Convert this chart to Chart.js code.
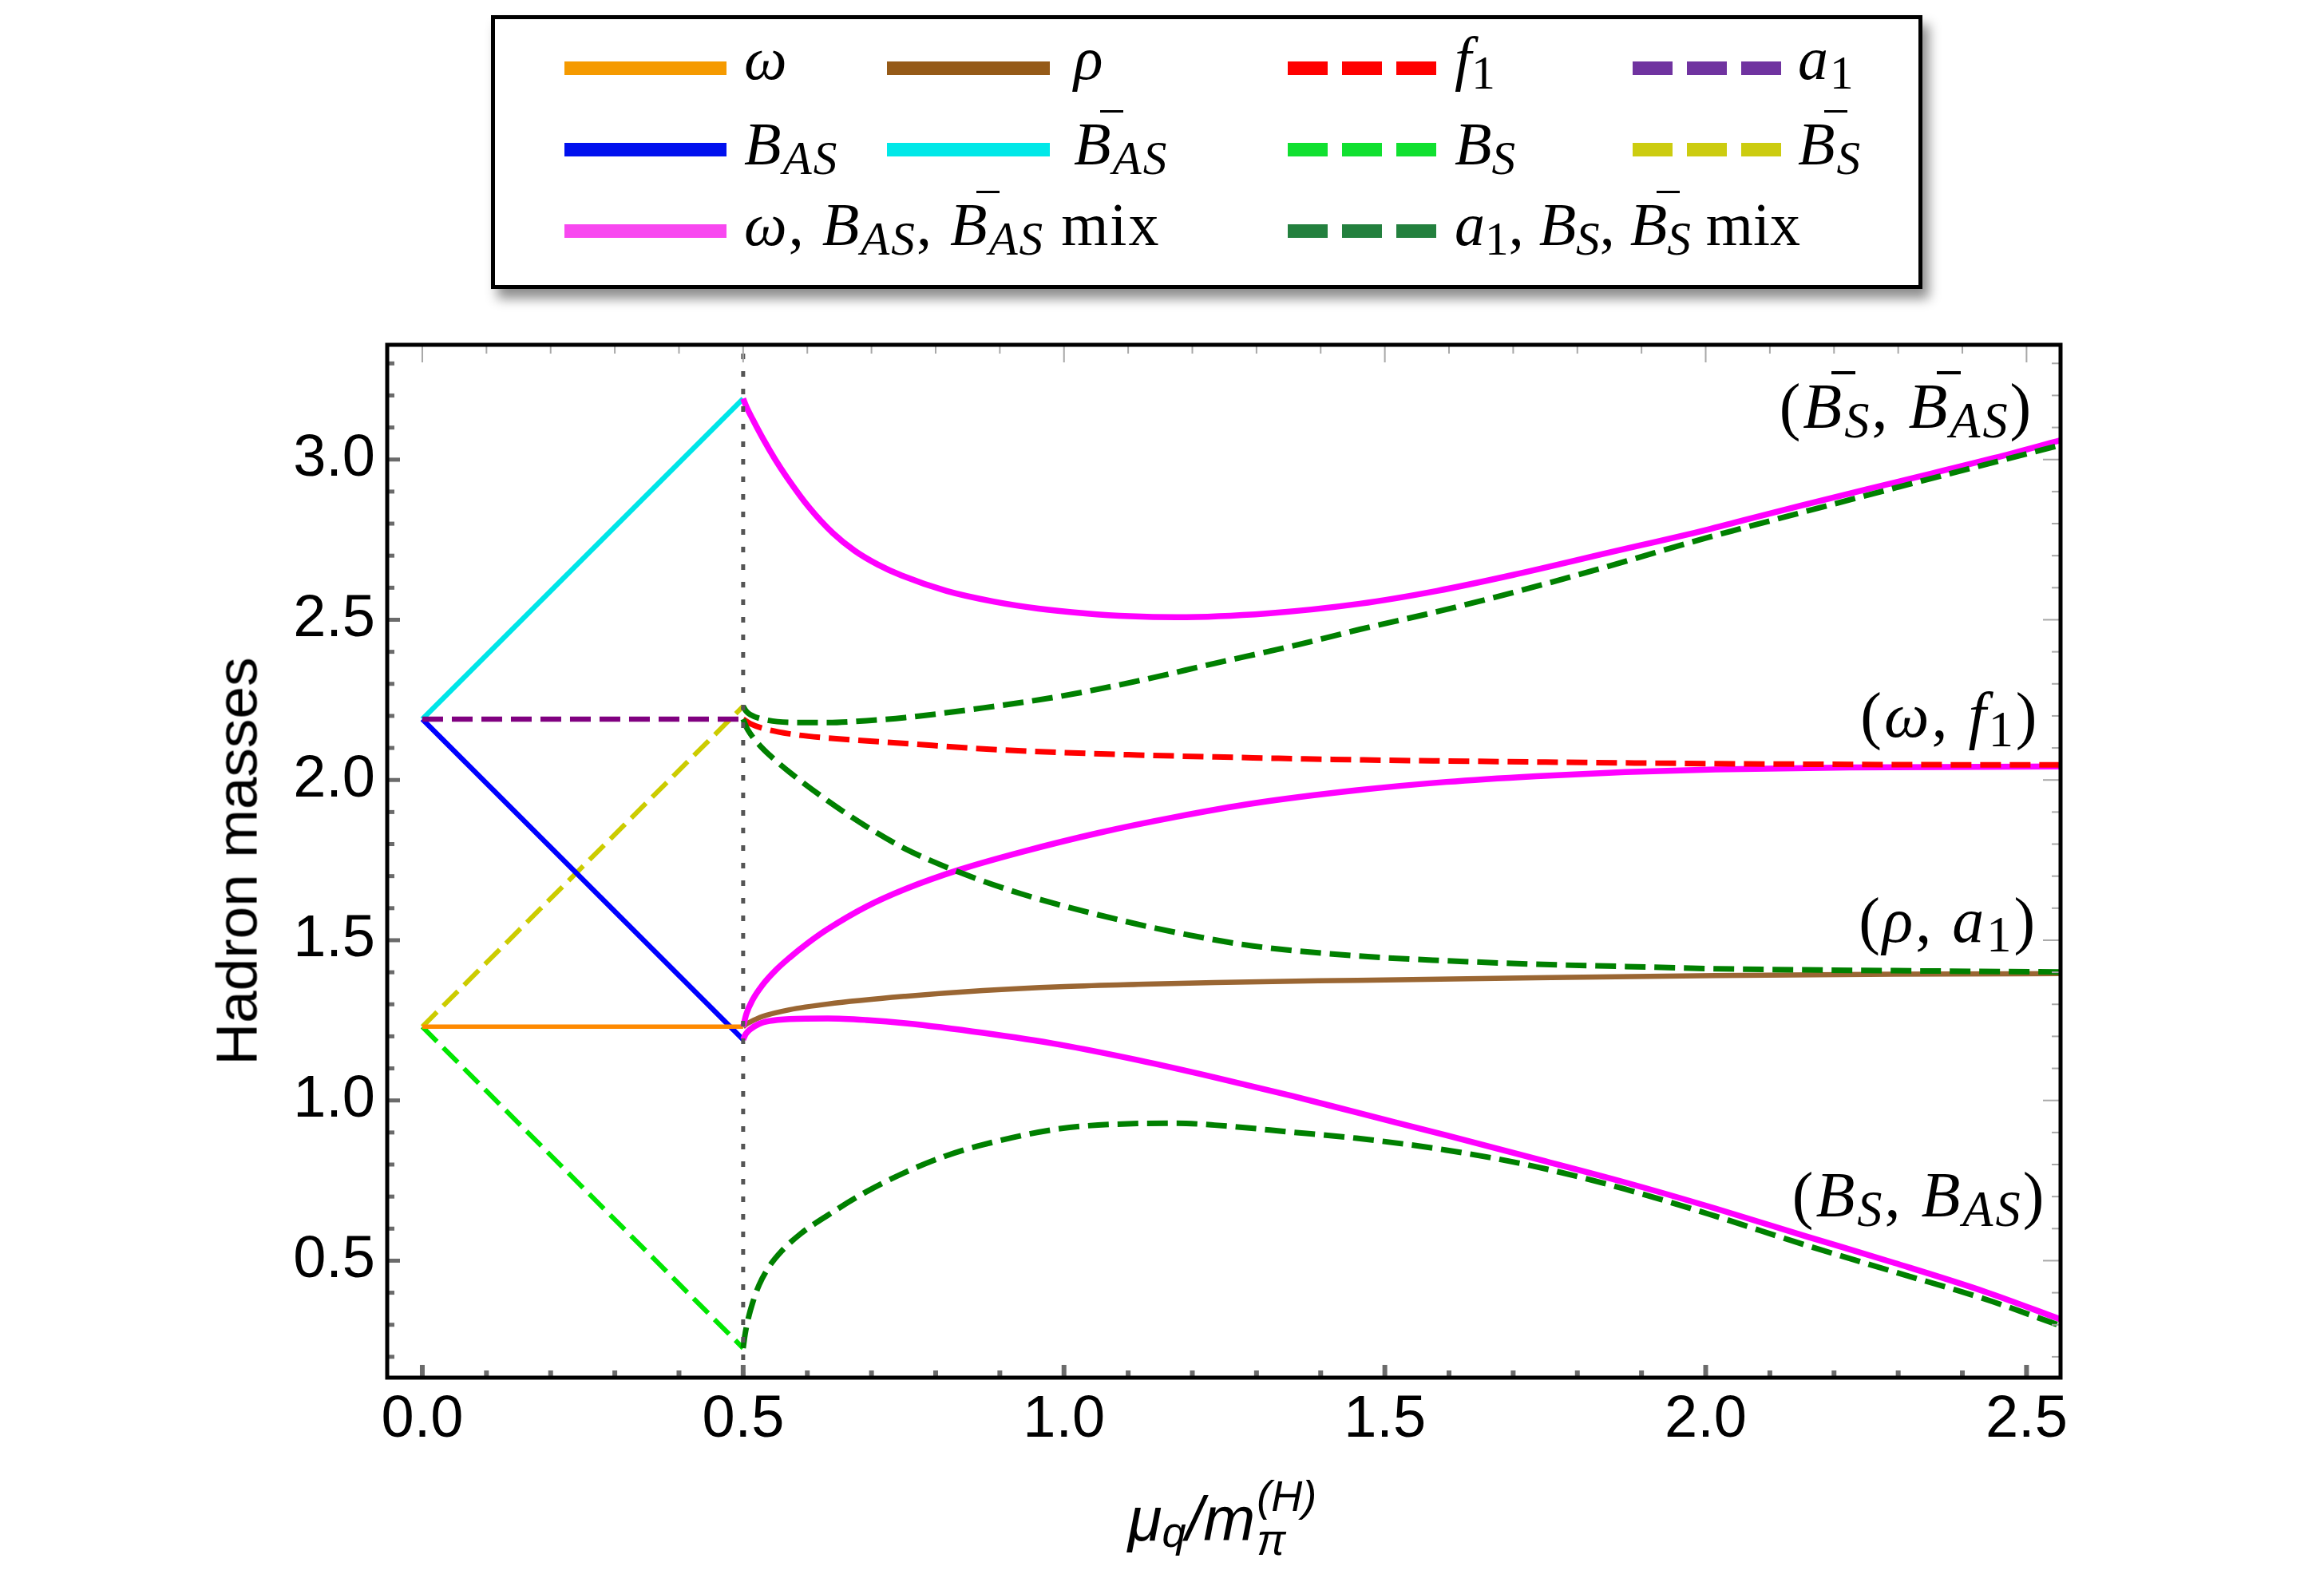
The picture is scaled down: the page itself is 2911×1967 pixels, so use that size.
<!DOCTYPE html>
<html>
<head>
<meta charset="utf-8">
<script src="https://cdn.jsdelivr.net/npm/chart.js@4.4.1/dist/chart.umd.min.js"></script>
<style>
html,body{margin:0;padding:0;background:#fff;}
#wrap{position:relative;width:2911px;height:1967px;overflow:hidden;background:#fff;}
#c{position:absolute;left:0;top:0;}
.math{position:absolute;font-family:"Liberation Serif","Times New Roman",serif;font-style:italic;white-space:nowrap;color:#000;line-height:1;}
.rm{font-style:normal;}
.sub{font-size:0.78em;vertical-align:-0.2em;line-height:0;}
.bar{position:relative;display:inline-block;}
.bar::after{content:"";position:absolute;left:0.44em;width:0.38em;top:-0.05em;border-top:0.05em solid #000;}
.bl{display:inline-block;width:0;height:0;}
#legend{position:absolute;left:615px;top:19px;width:1793px;height:343px;box-sizing:border-box;border:5px solid #000;background:#fff;box-shadow:8px 12px 14px rgba(0,0,0,0.45);}
.sw{position:absolute;height:17px;}
#ytitle{position:absolute;left:296px;top:1079px;transform:translate(-50%,-50%) rotate(-90deg);font-family:"Liberation Sans",Arial,sans-serif;font-size:73px;line-height:1;white-space:nowrap;color:#000;}
#xtitle{position:absolute;font-family:"Liberation Sans",Arial,sans-serif;font-style:italic;font-size:78px;line-height:1;white-space:nowrap;color:#000;}
#xtitle .xs{font-size:54px;vertical-align:-8px;line-height:0;}
#xtitle .ss{display:inline-flex;flex-direction:column;font-size:54px;line-height:55px;vertical-align:37px;margin-left:2px;}
</style>
</head>
<body>
<div id="wrap">
<canvas id="c" width="2911" height="1967"></canvas>
<div id="legend"></div>
<div id="ytitle">Hadron masses</div>
<div id="xtitle"><span class="bl"></span>μ<span class="xs">q</span>/m<span class="ss"><span>(H)</span><span>π</span></span></div>
</div>
<script>
// ---------------- data ----------------
const xTickValues = [0, 0.5, 1.0, 1.5, 2.0, 2.5];
const xTickLabels = ['0.0', '0.5', '1.0', '1.5', '2.0', '2.5'];
const yTickValues = [0.5, 1.0, 1.5, 2.0, 2.5, 3.0];
const yTickLabels = ['0.5', '1.0', '1.5', '2.0', '2.5', '3.0'];
const xRange = [-0.0547, 2.553];
const yRange = [0.135, 3.358];
const muCrit = 0.5;

// below the critical point (straight lines)
const leftX   = [0, 0.5];
const omegaY  = [1.23, 1.23];
const a1Y     = [2.19, 2.19];
const bASY    = [2.19, 1.19];
const bbarASY = [2.19, 3.19];
const bSY     = [1.23, 0.227];
const bbarSY  = [1.23, 2.23];

// rho (solid brown)
const rhoX = [0.5, 0.505, 0.511, 0.53, 0.572, 0.632, 0.753, 0.874, 0.994, 1.115, 1.235, 1.457, 1.736, 2.015, 2.294, 2.553];
const rhoY = [1.23, 1.238, 1.245, 1.262, 1.283, 1.301, 1.325, 1.343, 1.355, 1.362, 1.368, 1.375, 1.383, 1.39, 1.394, 1.396];

// f1 (dashed red)
const f1X = [0.5, 0.511, 0.533, 0.572, 0.632, 0.753, 0.874, 0.994, 1.115, 1.235, 1.457, 1.75, 2.015, 2.3, 2.553];
const f1Y = [2.19, 2.176, 2.16, 2.144, 2.131, 2.114, 2.097, 2.086, 2.078, 2.072, 2.063, 2.056, 2.051, 2.048, 2.047];

// omega, B_AS, Bbar_AS mix (solid magenta)
const mixTopX = [0.5, 0.505, 0.515, 0.531, 0.55, 0.568, 0.603, 0.64, 0.674, 0.71, 0.747, 0.817, 0.89, 0.96, 1.033, 1.103, 1.175, 1.318, 1.461, 1.581, 1.7, 1.85, 2.0, 2.054, 2.15, 2.302, 2.45, 2.553];
const mixTopY = [3.19, 3.165, 3.125, 3.065, 3.0, 2.945, 2.85, 2.77, 2.715, 2.672, 2.638, 2.59, 2.557, 2.535, 2.52, 2.511, 2.508, 2.52, 2.55, 2.59, 2.64, 2.71, 2.78, 2.808, 2.857, 2.932, 3.005, 3.06];
const mixMidX = [0.5, 0.505, 0.515, 0.53, 0.55, 0.572, 0.6, 0.632, 0.692, 0.753, 0.837, 0.933, 1.054, 1.175, 1.295, 1.457, 1.596, 1.736, 1.875, 2.015, 2.224, 2.553];
const mixMidY = [1.23, 1.27, 1.315, 1.36, 1.405, 1.445, 1.49, 1.535, 1.605, 1.66, 1.72, 1.775, 1.835, 1.885, 1.927, 1.968, 1.994, 2.012, 2.025, 2.033, 2.039, 2.042];
const mixLowX = [0.5, 0.504, 0.511, 0.525, 0.541, 0.572, 0.632, 0.692, 0.753, 0.874, 0.994, 1.115, 1.235, 1.356, 1.457, 1.596, 1.736, 1.875, 2.015, 2.155, 2.294, 2.434, 2.553];
const mixLowY = [1.19, 1.207, 1.222, 1.239, 1.248, 1.254, 1.256, 1.251, 1.241, 1.211, 1.174, 1.126, 1.072, 1.014, 0.962, 0.891, 0.818, 0.744, 0.663, 0.577, 0.493, 0.404, 0.317];

// a1, B_S, Bbar_S mix (dashed dark green)
const gTopX = [0.5, 0.505, 0.511, 0.53, 0.572, 0.632, 0.692, 0.753, 0.874, 0.994, 1.115, 1.235, 1.356, 1.461, 1.581, 1.7, 1.85, 2.0, 2.054, 2.302, 2.553];
const gTopY = [2.23, 2.214, 2.204, 2.19, 2.18, 2.179, 2.185, 2.195, 2.225, 2.261, 2.309, 2.364, 2.418, 2.47, 2.525, 2.585, 2.668, 2.755, 2.784, 2.915, 3.045];
const gMidX = [0.5, 0.505, 0.511, 0.525, 0.541, 0.572, 0.632, 0.692, 0.753, 0.837, 0.933, 1.054, 1.175, 1.295, 1.457, 1.596, 1.736, 1.875, 2.015, 2.294, 2.553];
const gMidY = [2.19, 2.165, 2.145, 2.11, 2.078, 2.025, 1.935, 1.855, 1.785, 1.712, 1.645, 1.579, 1.524, 1.482, 1.451, 1.436, 1.425, 1.418, 1.411, 1.405, 1.401];
const gLowX = [0.5, 0.503, 0.508, 0.515, 0.525, 0.54, 0.56, 0.589, 0.632, 0.692, 0.753, 0.813, 0.874, 0.994, 1.115, 1.175, 1.235, 1.356, 1.456, 1.596, 1.736, 1.875, 2.015, 2.155, 2.294, 2.434, 2.553];
const gLowY = [0.227, 0.27, 0.32, 0.37, 0.425, 0.48, 0.53, 0.583, 0.642, 0.715, 0.776, 0.825, 0.862, 0.912, 0.928, 0.929, 0.923, 0.901, 0.882, 0.845, 0.793, 0.723, 0.639, 0.549, 0.465, 0.381, 0.297];

// legend entries
const legendLabels = [
  'ω', 'ρ', '<i>f</i><span class="sub rm">1</span>', 'a<span class="sub rm">1</span>',
  'B<span class="sub">AS</span>', '<span class="bar">B</span><span class="sub">AS</span>',
  'B<span class="sub">S</span>', '<span class="bar">B</span><span class="sub">S</span>',
  'ω<span class="rm">,</span> B<span class="sub">AS</span><span class="rm">,</span> <span class="bar">B</span><span class="sub">AS</span> <span class="rm">mix</span>',
  'a<span class="sub rm">1</span><span class="rm">,</span> B<span class="sub">S</span><span class="rm">,</span> <span class="bar">B</span><span class="sub">S</span> <span class="rm">mix</span>'
];
const legendColors = ['#F59A00', '#955A18', '#FF0000', '#7033A0', '#0010EE', '#00E8E8', '#10E030', '#CCCC10', '#F848F0', '#23803E'];
const legendDashed = [false, false, true, true, false, false, true, true, false, true];

// curve labels on the right
const noteLabels = [
  '<span class="rm">(</span><span class="bar">B</span><span class="sub">S</span><span class="rm">,</span> <span class="bar">B</span><span class="sub">AS</span><span class="rm">)</span>',
  '<span class="rm">(</span>ω<span class="rm">,</span> <i>f</i><span class="sub rm">1</span><span class="rm">)</span>',
  '<span class="rm">(</span>ρ<span class="rm">,</span> a<span class="sub rm">1</span><span class="rm">)</span>',
  '<span class="rm">(</span>B<span class="sub">S</span><span class="rm">,</span> B<span class="sub">AS</span><span class="rm">)</span>'
];
const noteX = [2.511, 2.520, 2.517, 2.531];
const noteY = [3.10, 2.135, 1.496, 0.639];

// ---------------- helpers ----------------
function pts(xs, ys) { return xs.map((x, i) => ({x: x, y: ys[i]})); }
const DASH = [26, 11];
function line(label, xs, ys, color, width, dashed, order, smooth) {
  return {
    label: label, data: pts(xs, ys), borderColor: color, borderWidth: width,
    borderDash: dashed ? DASH : [], pointRadius: 0, pointHoverRadius: 0, showLine: true, fill: false,
    cubicInterpolationMode: smooth ? 'monotone' : 'default', tension: 0, order: order,
    borderCapStyle: 'butt', borderJoinStyle: 'round'
  };
}

const datasets = [
  {label: 'critical', data: [{x: muCrit, y: yRange[0]}, {x: muCrit, y: yRange[1]}], borderColor: '#555555', borderWidth: 5,
   borderDash: [7, 15], pointRadius: 0, showLine: true, fill: false, order: 0, borderCapStyle: 'butt'},
  line('a1 Bs Bbar_s mix top', gTopX, gTopY, '#008000', 7, true, 1, true),
  line('a1 Bs Bbar_s mix mid', gMidX, gMidY, '#008000', 7, true, 1, true),
  line('a1 Bs Bbar_s mix low', gLowX, gLowY, '#008000', 7, true, 1, true),
  line('f1', f1X, f1Y, '#FF0000', 7, true, 2, true),
  line('omega Bas Bbar_as mix top', mixTopX, mixTopY, '#FF00FF', 7.5, false, 3, true),
  line('omega Bas Bbar_as mix mid', mixMidX, mixMidY, '#FF00FF', 7.5, false, 3, true),
  line('omega Bas Bbar_as mix low', mixLowX, mixLowY, '#FF00FF', 7.5, false, 3, true),
  line('rho', rhoX, rhoY, '#9A6633', 6.5, false, 4, true),
  line('a1', leftX, a1Y, '#800080', 6.5, true, 5, false),
  line('omega', leftX, omegaY, '#FF8A00', 5.5, false, 5, false),
  line('B_AS', leftX, bASY, '#0000FF', 6.5, false, 6, false),
  line('Bbar_AS', leftX, bbarASY, '#00E5E8', 6.5, false, 6, false),
  line('B_S', leftX, bSY, '#00E600', 6, true, 6, false),
  line('Bbar_S', leftX, bbarSY, '#CCCC00', 6, true, 6, false)
];

// ---------------- frame + inward ticks ----------------
const frameTicks = {
  id: 'frameTicks',
  afterDatasetsDraw(chart) {
    const ctx = chart.ctx, a = chart.chartArea, x = chart.scales.x, y = chart.scales.y;
    ctx.save();
    for (let i = 0; i <= 25; i++) {
      const v = i / 10, px = x.getPixelForValue(v), major = (i % 5 === 0);
      ctx.fillStyle = '#6b6b6b';
      const lb = major ? 16 : 9;
      ctx.fillRect(px - 3, a.bottom - lb, 6, lb);
      ctx.fillStyle = '#a8a8a8';
      const lt = major ? 22 : 11;
      ctx.fillRect(px - 1, a.top, 2, lt);
    }
    for (let i = 2; i <= 33; i++) {
      const v = i / 10, py = y.getPixelForValue(v), major = (i % 5 === 0);
      ctx.fillStyle = '#6b6b6b';
      const ll = major ? 16 : 9;
      ctx.fillRect(a.left, py - 2.5, ll, 5);
      ctx.fillStyle = '#a8a8a8';
      const lr = major ? 22 : 11;
      ctx.fillRect(a.right - lr, py - 1, lr, 2);
    }
    ctx.strokeStyle = '#000';
    ctx.lineWidth = 5;
    ctx.strokeRect(a.left, a.top, a.right - a.left, a.bottom - a.top);
    ctx.restore();
  }
};

const chart = new Chart(document.getElementById('c'), {
  type: 'scatter',
  data: {datasets: datasets},
  options: {
    responsive: false, animation: false, devicePixelRatio: 1,
    layout: {padding: {left: 0, right: 330, top: 432, bottom: 0}},
    plugins: {legend: {display: false}, tooltip: {enabled: false}},
    scales: {
      x: {
        type: 'linear', min: xRange[0], max: xRange[1],
        grid: {display: false, drawTicks: false, tickLength: 0}, border: {display: false},
        ticks: {font: {family: 'Liberation Sans', size: 74}, color: '#000', padding: 9, autoSkip: false, maxRotation: 0, minRotation: 0,
                callback: (v) => xTickLabels[xTickValues.indexOf(v)]},
        afterBuildTicks: (s) => { s.ticks = xTickValues.map(v => ({value: v})); },
        afterFit: (s) => { s.height = 241; }
      },
      y: {
        type: 'linear', min: yRange[0], max: yRange[1],
        grid: {display: false, drawTicks: false, tickLength: 0}, border: {display: false},
        ticks: {font: {family: 'Liberation Sans', size: 74}, color: '#000', padding: 15, autoSkip: false,
                callback: (v) => yTickLabels[yTickValues.indexOf(v)]},
        afterBuildTicks: (s) => { s.ticks = yTickValues.map(v => ({value: v})); },
        afterFit: (s) => { s.width = 485; }
      }
    }
  },
  plugins: [frameTicks]
});

// ---------------- html text placement ----------------
function placeAt(el, x, baseY, align) {
  el.style.left = '0px'; el.style.top = '0px';
  const m = el.querySelector('.bl');
  const r = el.getBoundingClientRect(), mr = m.getBoundingClientRect();
  const base = mr.bottom - r.top;
  const w = r.width;
  const left = align === 'right' ? x - w : (align === 'center' ? x - w / 2 : x);
  el.style.left = left + 'px';
  el.style.top = (baseY - base) + 'px';
}

// legend
const legend = document.getElementById('legend');
const innerL = 620, innerT = 24;
const colSw = [[707, 203], [1111, 204], [1613, 186], [2045, 186]];
const colTx = [932, 1345, 1822, 2252];
const rowC = [85, 187, 289];
const rowB = [99, 206, 307];
const slots = [[0,0],[0,1],[0,2],[0,3],[1,0],[1,1],[1,2],[1,3],[2,0],[2,2]];
slots.forEach((s, i) => {
  const r = s[0], c = s[1];
  const sw = document.createElement('div');
  sw.className = 'sw';
  sw.style.left = (colSw[c][0] - innerL) + 'px';
  sw.style.width = colSw[c][1] + 'px';
  sw.style.top = (rowC[r] - 8.5 - innerT) + 'px';
  const col = legendColors[i];
  sw.style.background = legendDashed[i]
    ? 'repeating-linear-gradient(to right,' + col + ' 0px,' + col + ' 50px,transparent 50px,transparent 68px)'
    : col;
  legend.appendChild(sw);
  const t = document.createElement('div');
  t.className = 'math';
  t.style.fontSize = '76px';
  t.style.letterSpacing = (c === 2 ? '0px' : '2px');
  t.innerHTML = '<span class="bl"></span>' + legendLabels[i];
  legend.appendChild(t);
  placeAt(t, colTx[c] - innerL, rowB[r] - innerT, 'left');
});

// curve labels
const wrap = document.getElementById('wrap');
noteLabels.forEach((h, i) => {
  const el = document.createElement('div');
  el.className = 'math';
  el.style.fontSize = '80px';
  el.style.letterSpacing = '3px';
  el.innerHTML = '<span class="bl"></span>' + h;
  wrap.appendChild(el);
  placeAt(el, chart.scales.x.getPixelForValue(noteX[i]), chart.scales.y.getPixelForValue(noteY[i]), 'right');
});

// x title
placeAt(document.getElementById('xtitle'), 1531, 1930, 'center');
</script>
</body>
</html>
